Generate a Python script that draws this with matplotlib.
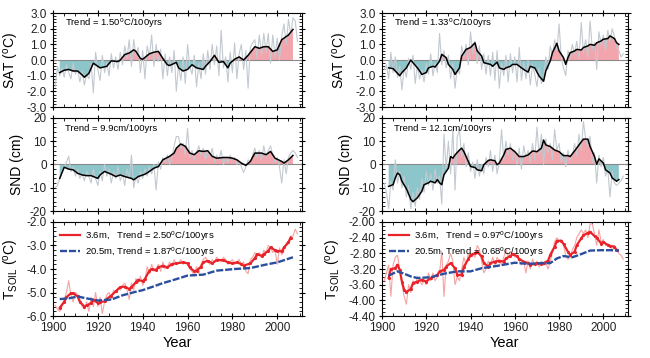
import numpy as np
import matplotlib
matplotlib.use("Agg")
import matplotlib.pyplot as plt
from matplotlib.ticker import MultipleLocator, FormatStrFormatter

plt.rcParams['font.family'] = ['Liberation Sans', 'DejaVu Sans']
plt.rcParams['mathtext.default'] = 'regular'
plt.rcParams['axes.unicode_minus'] = False

years = list(range(1901, 2010))

# ---------- left column ----------
sat_l = [-1.7, -0.4, -1.0, -0.5, -1.1, -0.3, -0.8, -1.2, -0.2, -0.9,
         -0.6, -1.4, -0.7, -1.6, -0.9, -1.2, -0.2, -2.1, 0.5, -0.6,
         -1.3, 0.3, -0.8, -0.2, -1.0, 0.4, -0.5, 0.2, -0.6, 0.5,
         -0.3, 0.9, 0.1, 1.3, -0.4, 1.3, 0.3, 0.8, -0.8, 0.6,
         -1.2, 0.9, 0.2, 1.6, -0.4, 1.0, -0.1, 0.7, -1.2, 0.4,
         -1.0, 0.2, -0.8, 0.6, -2.0, -0.3, -1.3, 0.2, -1.5, 1.0,
         -0.4, -0.9, 0.3, -1.7, -0.2, -1.2, 0.4, -0.9, 0.6, -0.6,
         1.0, -0.3, 0.9, -1.0, 1.9, -0.5, 0.2, -1.4, 0.5, -0.8,
         1.1, -1.2, 0.4, 1.0, -0.6, 0.6, -1.8, 0.8, 1.1, 1.3,
         0.1, 1.6, 0.3, 1.7, 0.5, 1.7, -0.2, 1.6, 0.2, 1.4,
         0.0, 1.5, 2.3, 1.0, 2.6, 1.6, 2.7, 2.5, 1.2]
sat_l_yr = [1903, 1905, 1907, 1909, 1911, 1913, 1914, 1916, 1918, 1920, 1921, 1924,
            1926, 1929, 1930, 1932, 1934, 1936, 1937, 1939, 1940, 1943, 1945, 1947,
            1949, 1951, 1952, 1955, 1956, 1958, 1960, 1962, 1964, 1967, 1968, 1970,
            1972, 1974, 1976, 1978, 1979, 1981, 1983, 1985, 1987, 1990, 1992, 1994,
            1996, 1998, 2000, 2002, 2005, 2007]
sat_l_sm = [-0.8, -0.65, -0.6, -0.7, -0.7, -0.95, -1.1, -0.85, -0.2, -0.4, -0.5, -0.4,
            -0.05, -0.1, 0.0, 0.35, 0.45, 0.65, 0.55, 0.1, 0.05, 0.4, 0.5, 0.55,
            0.1, -0.3, -0.35, -0.15, -0.5, -0.7, -0.6, -0.3, -0.5, -0.6, -0.4, -0.1,
            0.3, -0.15, -0.1, -0.5, -0.2, 0.05, 0.2, 0.0, 0.3, 0.85, 0.75, 0.85,
            0.85, 0.55, 0.65, 1.3, 1.6, 1.95]

snd_l = [-10, -9, -6, -3, -1, 1, 3.5, -3, -1, -5,
         -2, -6, -4, -7, -3, -5, -8, -2, -6, -9,
         -3, -7, 0, -5, -2, -8, -3, -6, -1, -7,
         -4, -9, -2, -6, 4, -10, -5, -8, -3, -6,
         -2, -5, -1, -4, 0, -11, 1, -2, 3, 1,
         4, 0, 3, 8, 12, 12, 7, 9, 4, 15.5,
         3, 6, 2, 5, 8, 4, 7, 2, 6, 3,
         7, 1, 4, 2, 6, 0, 3, 1, 4, 2,
         3, 0, 1, -1, -3.5, -1, 2, 1, 4, 7,
         3, 6, 2, 8, 3, 6, 8, 4, 1, 3,
         -1, -8, 2, -4, 3, 5, 6, 5, 3]
snd_l_yr = [1903, 1905, 1907, 1909, 1911, 1913, 1915, 1917, 1920, 1921, 1923, 1926,
            1928, 1930, 1932, 1935, 1936, 1938, 1941, 1943, 1945, 1947, 1949, 1952,
            1954, 1955, 1957, 1959, 1961, 1963, 1965, 1967, 1969, 1971, 1973, 1976,
            1978, 1980, 1982, 1984, 1986, 1988, 1990, 1993, 1995, 1997, 1999, 2002,
            2003, 2005, 2007]
snd_l_sm = [-6, -1.2, -2, -2.3, -3.8, -4.5, -4.8, -4.8, -6, -4.5, -3, -4.2,
            -5.2, -4.5, -5.2, -6, -6.6, -5.2, -4.2, -3, -1.6, -0.9, 2, 3.5,
            4.9, 7, 8.8, 7.8, 4.9, 4.2, 5.9, 5.6, 5.9, 3.5, 2.7, 3,
            3, 2.7, 2, 0.6, -0.4, 1.3, 4.9, 4.9, 4.2, 5.6, 2.7, 1.3,
            0.6, 2, 3.9]

ts36_l = [-5.55, -5.7, -5.8, -5.6, -5.3, -5.0, -4.5, -5.1, -5.4, -5.0,
          -5.1, -5.3, -5.6, -5.7, -5.4, -5.8, -5.2, -5.6, -5.0, -5.6,
          -5.2, -5.9, -5.4, -5.1, -5.0, -5.3, -4.9, -5.0, -4.8, -4.9,
          -4.7, -4.6, -4.9, -5.3, -4.6, -4.9, -4.4, -4.6, -4.3, -4.7,
          -4.5, -3.9, -4.2, -3.8, -4.1, -4.0, -3.8, -4.1, -3.7, -4.0,
          -3.9, -3.7, -3.9, -3.6, -3.8, -3.75, -3.6, -3.8, -3.7, -3.8,
          -4.0, -4.1, -4.3, -3.9, -4.2, -3.8, -3.6, -3.5, -3.7, -3.8,
          -3.6, -3.7, -3.5, -3.6, -3.7, -3.5, -3.6, -3.8, -3.7, -3.6,
          -3.8, -3.7, -3.6, -3.8, -3.7, -4.1, -4.2, -3.6, -3.5, -3.3,
          -3.5, -3.3, -3.5, -3.2, -3.3, -3.0, -3.1, -3.3, -3.2, -3.8,
          -3.1, -3.4, -3.2, -2.9, -2.8, -2.6, -2.6, -2.3, -2.5]
ts36_l_yr = [1903, 1905, 1906, 1908, 1909, 1911, 1912, 1914, 1915, 1917, 1918, 1920,
             1921, 1923, 1924, 1926, 1928, 1930, 1932, 1934, 1935, 1937, 1938, 1940,
             1941, 1943, 1944, 1946, 1947, 1949, 1951, 1953, 1955, 1958, 1960, 1961,
             1963, 1964, 1966, 1967, 1969, 1971, 1973, 1976, 1978, 1980, 1982, 1984,
             1985, 1988, 1990, 1991, 1993, 1994, 1996, 1997, 1999, 2000, 2002, 2003,
             2005, 2006]
ts36_l_sm = [-5.65, -5.4, -5.2, -5.03, -5.03, -5.17, -5.4, -5.6, -5.55, -5.45, -5.3, -5.45,
             -5.4, -5.38, -5.27, -5.13, -4.95, -4.77, -4.75, -4.85, -4.77, -4.56, -4.46, -4.52,
             -4.42, -4.07, -4.0, -4.04, -3.93, -3.86, -3.93, -3.79, -3.76, -3.72, -3.76, -3.93,
             -4.1, -4.07, -3.9, -3.72, -3.65, -3.76, -3.62, -3.62, -3.72, -3.76, -3.72, -3.79,
             -3.86, -3.76, -3.54, -3.37, -3.44, -3.37, -3.23, -3.08, -3.2, -3.23, -3.25, -3.08,
             -2.87, -2.66]
ts205_l_yr = [1903, 1907, 1911, 1915, 1920, 1926, 1931, 1936, 1940, 1944, 1949, 1954,
              1960, 1967, 1973, 1981, 1988, 1996, 2000, 2007]
ts205_l_sm = [-5.28, -5.25, -5.17, -5.25, -5.34, -5.3, -5.12, -4.99, -4.9, -4.77, -4.6, -4.46,
              -4.28, -4.24, -4.07, -4.0, -3.96, -3.79, -3.72, -3.5]

# ---------- right column ----------
sat_r = [-0.6, -0.3, -1.2, 0.5, -0.8, 0.2, -1.1, -0.4, -1.9, -0.5,
         -1.1, 0.1, -0.6, 0.3, -1.5, -0.3, -1.2, -0.6, -1.4, -0.2,
         -0.9, 0.4, -1.0, -0.2, -0.8, 1.7, -0.3, 0.6, -0.5, 0.3,
         -1.2, -0.2, -1.8, -0.5, -0.9, 0.9, 0.2, 1.0, -0.3, 1.8,
         0.4, 1.2, -0.2, 0.9, -0.6, 0.4, -0.9, 0.3, -1.0, 0.5,
         -1.3, 0.6, -1.8, -0.2, -1.0, 0.3, -1.4, 0.4, -0.8, 0.2,
         -1.4, 0.8, -1.3, -0.1, -1.2, 0.0, -1.6, -0.3, -0.9, -1.7,
         -0.5, -1.5, -1.2, 0.2, -0.6, 0.9, 0.3, 1.3, 0.6, 2.3,
         0.1, -0.5, -1.0, 0.6, 0.2, 1.0, 0.4, 1.2, 0.1, 2.4,
         0.5, 1.3, 0.2, 2.5, 0.7, 1.1, -0.6, 1.8, 1.0, 1.6,
         0.6, 1.9, 1.2, 2.0, 1.5, 0.8, 0.6, 0.2, 0.4]
sat_r_yr = [1903, 1905, 1906, 1908, 1909, 1911, 1913, 1914, 1916, 1917, 1918, 1920,
            1921, 1923, 1924, 1926, 1927, 1929, 1930, 1932, 1933, 1935, 1936, 1938,
            1940, 1942, 1943, 1945, 1946, 1949, 1950, 1952, 1953, 1955, 1956, 1958,
            1959, 1961, 1963, 1964, 1966, 1967, 1969, 1971, 1973, 1974, 1976, 1977,
            1979, 1980, 1982, 1983, 1984, 1985, 1987, 1988, 1990, 1991, 1993, 1994,
            1996, 1997, 1999, 2000, 2002, 2003, 2005, 2006, 2007]
sat_r_sm = [-0.5, -0.55, -0.7, -1.0, -0.8, -0.5, 0.0, -0.17, -0.5, -0.7, -0.92, -0.8,
            -0.5, -0.4, -0.45, -0.07, 0.36, 0.15, -0.28, -0.6, -0.92, -0.5, 0.26, 0.68,
            0.8, 1.1, 0.58, 0.26, -0.17, -0.28, -0.4, -0.13, -0.5, -0.6, -0.5, -0.4,
            -0.28, -0.28, -0.5, -0.6, -0.77, -0.4, -0.5, -1.03, -1.35, -0.7, -0.06, 0.47,
            1.07, 0.58, 0.15, -0.28, 0.15, 0.47, 0.58, 0.68, 0.64, 0.8, 0.9, 1.0,
            0.94, 1.1, 1.22, 1.33, 1.37, 1.54, 1.37, 1.1, 1.0]

snd_r = [-8, -12, -19, -7, -11, 2, -8, -3, -10, -5,
         -14, -9, -19, -12, -18, -10, -15, -6, -12, -3,
         -9, -4, -11, -2, -8, -5, -17, 13, -2, 10,
         -4, 16, -11, 12, 15, 3, 9, -1, 5, -3,
         1, -6, 2, -5, 0, -4, 3, -1, 6, -3,
         4, -4, 1, 15, 2, 10, 4, 9, 2, 6,
         0, 7, -2, 8, 3, 6, 1, 9, 2, 16,
         4, 13, 0, 11, 5, 9, 2, 15, 6, 9,
         1, 5, -1, 6, 2, 4, 9, 4, 13, 6,
         18.5, 11, 8, 12, 1, 5, -8, 4, -1, 3,
         -5, -2, -14, -3, -8, -9, -8, -7, -5]
snd_r_yr = [1903, 1905, 1906, 1907, 1908, 1909, 1911, 1912, 1913, 1914, 1916, 1918,
            1919, 1921, 1922, 1924, 1925, 1926, 1927, 1928, 1930, 1931, 1932, 1933,
            1935, 1936, 1937, 1939, 1940, 1942, 1943, 1945, 1946, 1948, 1949, 1951,
            1952, 1953, 1955, 1956, 1958, 1960, 1962, 1964, 1966, 1968, 1970, 1972,
            1973, 1974, 1976, 1978, 1980, 1982, 1984, 1985, 1987, 1989, 1991, 1993,
            1994, 1996, 1997, 1998, 2000, 2001, 2003, 2004, 2006, 2007]
snd_r_sm = [-9.4, -8.7, -5.8, -3.7, -4.4, -7.2, -10.4, -12.6, -15, -16, -14.3, -11.5,
            -8.7, -7.9, -7.2, -7.9, -6.5, -7.9, -8.7, -4.4, -1.6, 3.4, 2.7, 4.1,
            6.2, 7, 5.5, 1.3, -0.85, -1.3, -2.3, -2.7, -0.1, 1.7, 2.0, 1.6,
            -0.1, 0.6, 4.1, 6.5, 7, 5.5, 3.4, 3.4, 4.1, 5.8, 5.5, 7,
            10.5, 8.4, 7.7, 6.2, 5.5, 3.8, 3.8, 3.4, 5.8, 8.4, 10.9, 10.9,
            7.7, 3.4, 0.1, 2.4, 0.6, -2.3, -3.7, -5.8, -7.2, -6.5]

ts36_r = [-3.5, -3.3, -3.1, -3.9, -3.1, -2.9, -2.85, -3.2, -3.6, -3.9,
          -4.1, -3.6, -3.8, -3.5, -3.6, -3.4, -3.5, -3.6, -3.5, -3.6,
          -3.3, -3.5, -3.3, -3.5, -3.4, -3.3, -2.75, -3.9, -3.1, -3.0,
          -2.8, -3.0, -3.6, -3.4, -3.5, -3.2, -2.9, -3.1, -2.8, -2.9,
          -2.8, -2.9, -2.6, -2.7, -3.0, -3.3, -3.2, -3.0, -3.1, -2.9,
          -3.1, -2.9, -3.0, -3.1, -2.9, -2.7, -2.9, -2.75, -2.8, -2.9,
          -2.85, -3.0, -3.1, -3.0, -3.3, -3.0, -3.2, -2.95, -3.1, -3.0,
          -3.15, -3.0, -3.1, -3.05, -3.2, -3.0, -2.8, -2.5, -2.4, -2.5,
          -2.45, -2.6, -2.85, -2.95, -2.9, -2.7, -2.6, -2.4, -2.3, -2.2,
          -2.3, -2.2, -2.4, -2.05, -2.05, -2.3, -2.6, -2.2, -2.5, -2.45,
          -2.6, -2.55, -2.6, -2.75, -2.6, -2.7, -2.8, -2.85, -2.95]
ts36_r_yr = [1903, 1904, 1906, 1907, 1908, 1909, 1910, 1911, 1913, 1914, 1916, 1918,
             1920, 1922, 1925, 1926, 1928, 1929, 1931, 1933, 1934, 1936, 1937, 1939,
             1940, 1942, 1943, 1945, 1946, 1948, 1949, 1951, 1953, 1955, 1956, 1958,
             1959, 1961, 1962, 1964, 1966, 1967, 1969, 1970, 1972, 1973, 1975, 1976,
             1978, 1979, 1981, 1982, 1984, 1985, 1987, 1988, 1990, 1991, 1993, 1994,
             1996, 1997, 1999, 2000, 2002, 2003, 2005, 2006]
ts36_r_sm = [-3.43, -3.2, -3.18, -3.09, -3.22, -3.52, -3.73, -3.79, -3.71, -3.56, -3.52, -3.47,
             -3.52, -3.43, -3.35, -3.26, -3.22, -3.14, -3.05, -3.18, -3.35, -3.35, -3.14, -2.95,
             -2.84, -2.8, -2.76, -2.88, -3.05, -3.14, -3.05, -3.01, -2.99, -3.01, -2.93, -2.87,
             -2.82, -2.87, -2.95, -3.01, -3.05, -3.09, -3.07, -3.05, -3.07, -3.05, -2.99, -2.84,
             -2.63, -2.48, -2.48, -2.56, -2.76, -2.84, -2.76, -2.59, -2.42, -2.34, -2.28, -2.25,
             -2.36, -2.4, -2.55, -2.51, -2.59, -2.61, -2.63, -2.72]
ts205_r_yr = [1903, 1907, 1910, 1913, 1916, 1922, 1928, 1934, 1940, 1945, 1952, 1960,
              1966, 1972, 1976, 1979, 1982, 1986, 1990, 1994, 1999, 2004, 2007]
ts205_r_sm = [-3.37, -3.26, -3.32, -3.39, -3.43, -3.41, -3.32, -3.26, -3.26, -3.18, -3.12, -3.04,
              -3.07, -3.05, -3.05, -2.93, -2.87, -2.9, -2.82, -2.73, -2.72, -2.72, -2.73]

trend_sat = ['Trend = 1.50$^o$C/100yrs', 'Trend = 1.33$^o$C/100yrs']
trend_snd = ['Trend = 9.9cm/100yrs', 'Trend = 12.1cm/100yrs']
leg36 = ['3.6m,   Trend = 2.50$^o$C/100yrs', '3.6m,   Trend = 0.97$^o$C/100yrs']
leg205 = ['20.5m, Trend = 1.87$^o$C/100yrs', '20.5m, Trend = 0.68$^o$C/100yrs']

POS = '#f2a5ad'
NEG = '#8cc6ca'
GRAY = '#c2c9d0'


def style_axis(ax, ylim, ymaj, ymin, fmt, show_x):
    ax.set_xlim(1900, 2011)
    ax.set_ylim(*ylim)
    ax.xaxis.set_major_locator(MultipleLocator(20))
    ax.xaxis.set_minor_locator(MultipleLocator(5))
    ax.yaxis.set_major_locator(MultipleLocator(ymaj))
    ax.yaxis.set_minor_locator(MultipleLocator(ymin))
    ax.yaxis.set_major_formatter(FormatStrFormatter(fmt))
    ax.tick_params(which='major', direction='inout', length=5, width=0.8,
                   top=True, right=True, labelsize=8.5, pad=2, labelcolor='#222222')
    ax.tick_params(which='minor', direction='in', length=2.5, width=0.6,
                   top=True, right=True)
    if not show_x:
        ax.tick_params(labelbottom=False)
    for s in ax.spines.values():
        s.set_linewidth(0.8)


def anomaly_panel(ax, annual, yr, sm, ylim, ymaj, ymin, fmt, label, trend):
    yr = np.array(yr)
    sm = np.array(sm)
    ax.fill_between(yr, sm, 0, where=sm >= 0, interpolate=True, color=POS, lw=0)
    ax.fill_between(yr, sm, 0, where=sm <= 0, interpolate=True, color=NEG, lw=0)
    ax.axhline(0, color='#8a8a8a', lw=0.8)
    ax.plot(years, annual, color=GRAY, lw=0.8)
    ax.plot(yr, sm, color='black', lw=1.1)
    style_axis(ax, ylim, ymaj, ymin, fmt, False)
    ax.set_ylabel(label, fontsize=10, labelpad=4)
    ax.text(0.05, 0.89, trend, transform=ax.transAxes, fontsize=6.8, va='center')


def soil_panel(ax, annual, yr36, sm36, yr205, sm205, ylim, ymaj, ymin, fmt, l36, l205):
    ax.plot(years, annual, color='#f6a3a3', lw=0.8)
    ax.plot(yr36, sm36, color='#e8242a', lw=1.6, marker='.', ms=2.5, label=l36)
    ax.plot(yr205, sm205, color='#2b4f9e', lw=1.7, ls=(0, (3, 0.8)), label=l205)
    style_axis(ax, ylim, ymaj, ymin, fmt, True)
    ax.set_ylabel('T$_{SOIL}$ ($^o$C)', fontsize=10, labelpad=4)
    ax.set_xlabel('Year', fontsize=10.5, labelpad=1)
    ax.legend(loc='upper left', frameon=False, fontsize=6.8, handlelength=2.2,
              handletextpad=0.5, labelspacing=0.25, borderaxespad=0.3, markerscale=0)


fig = plt.figure(figsize=(6.5, 3.58), dpi=100)
lefts = [0.0815, 0.5877]
widths = [0.383, 0.378]
bottoms = [0.701, 0.4106, 0.1173]
heights = [0.2626, 0.26, 0.2626]

for c in range(2):
    ax1 = fig.add_axes([lefts[c], bottoms[0], widths[c], heights[0]])
    ax2 = fig.add_axes([lefts[c], bottoms[1], widths[c], heights[1]])
    ax3 = fig.add_axes([lefts[c], bottoms[2], widths[c], heights[2]])
    if c == 0:
        anomaly_panel(ax1, sat_l, sat_l_yr, sat_l_sm, (-3, 3), 1.0, 0.2, '%.1f',
                      'SAT ($^o$C)', trend_sat[0])
        anomaly_panel(ax2, snd_l, snd_l_yr, snd_l_sm, (-20, 20), 10, 2, '%d',
                      'SND (cm)', trend_snd[0])
        soil_panel(ax3, ts36_l, ts36_l_yr, ts36_l_sm, ts205_l_yr, ts205_l_sm,
                   (-6, -2), 1.0, 0.2, '%.1f', leg36[0], leg205[0])
    else:
        anomaly_panel(ax1, sat_r, sat_r_yr, sat_r_sm, (-3, 3), 1.0, 0.2, '%.1f',
                      'SAT ($^o$C)', trend_sat[1])
        anomaly_panel(ax2, snd_r, snd_r_yr, snd_r_sm, (-20, 20), 10, 2, '%d',
                      'SND (cm)', trend_snd[1])
        soil_panel(ax3, ts36_r, ts36_r_yr, ts36_r_sm, ts205_r_yr, ts205_r_sm,
                   (-4.4, -2.0), 0.4, 0.1, '%.2f', leg36[1], leg205[1])

fig.savefig('out.png', dpi=100)
